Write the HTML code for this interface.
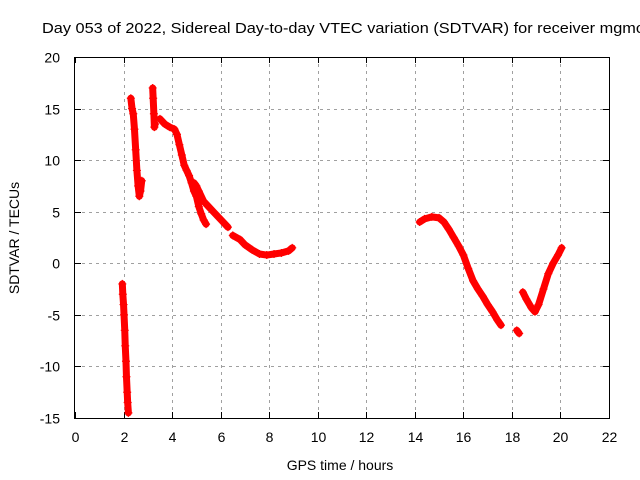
<!DOCTYPE html>
<html><head><meta charset="utf-8"><style>
html,body{margin:0;padding:0;background:#fff;}
svg{display:block;font-family:"Liberation Sans",sans-serif;}
</style></head><body>
<svg id="chart" width="640" height="480" viewBox="0 0 640 480" xmlns="http://www.w3.org/2000/svg">
<rect width="640" height="480" fill="#fff"/>
<text x="42" y="33" font-size="15" textLength="602" lengthAdjust="spacingAndGlyphs" fill="#000">Day 053 of 2022, Sidereal Day-to-day VTEC variation (SDTVAR) for receiver mgmc</text>
<g id="grid"></g>
<g id="ticks"></g>
<g id="series"></g>
<rect x="74.5" y="57.5" width="535" height="361" fill="none" stroke="#000" stroke-width="1"/>
<text x="340" y="470" font-size="14" text-anchor="middle">GPS time / hours</text>
<text transform="translate(19,238) rotate(-90)" font-size="14" text-anchor="middle">SDTVAR / TECUs</text>
</svg>
<script>
const xTicks = [0,2,4,6,8,10,12,14,16,18,20,22];
const yTicks = [-15,-10,-5,0,5,10,15,20];
const segA = [[1.95,-2],[1.97,-3],[2.0,-4],[2.02,-5],[2.05,-6.5],[2.07,-8],[2.1,-9.5],[2.12,-11],[2.15,-12.5],[2.17,-13.5],[2.2,-14.5]];
const segB = [[2.3,16],[2.35,15],[2.4,14.5],[2.45,13],[2.5,11],[2.55,9],[2.6,7.5],[2.65,6.5],[2.7,7],[2.75,8]];
const segC = [[3.2,17],[3.22,16],[3.25,14.5],[3.27,13.2],[3.3,13.5]];
const segD1 = [[3.5,14],[3.7,13.5],[3.9,13.2],[4.1,13],[4.2,12.5],[4.3,11.5],[4.4,10.5],[4.5,9.5],[4.6,9],[4.7,8.5],[4.8,7.8],[4.9,7],[5.0,6.5],[5.1,5.5],[5.2,4.8],[5.3,4.2],[5.4,3.8]];
const segD2 = [[4.9,7.8],[5.0,7.5],[5.1,7],[5.3,6],[5.5,5.5],[5.7,5],[5.9,4.5],[6.1,4],[6.3,3.5]];
const segD3 = [[6.5,2.7],[6.8,2.3],[7.0,1.8],[7.3,1.3],[7.6,0.9],[7.9,0.8],[8.2,0.9],[8.5,1.0],[8.8,1.2],[8.95,1.5]];
const segE = [[14.2,4],[14.4,4.3],[14.7,4.5],[15.0,4.4],[15.2,4.0],[15.4,3.3],[15.6,2.5],[15.8,1.7],[16.0,0.8],[16.2,-0.5],[16.4,-1.7],[16.6,-2.5],[16.8,-3.2],[17.0,-4],[17.2,-4.7],[17.4,-5.5],[17.55,-6]];
const segF = [[18.2,-6.5],[18.3,-6.8]];
const segG = [[18.45,-2.8],[18.6,-3.5],[18.8,-4.3],[18.95,-4.7],[19.1,-4],[19.3,-2.5],[19.5,-1],[19.7,0],[19.9,0.8],[20.05,1.5]];
const segments = [segA,segB,segC,segD1,segD2,segD3,segE,segF,segG];

const NS="http://www.w3.org/2000/svg";
const X0=75,X1=609,Y0=418,Y1=57;
function xs(v){return X0+(v-0)/22*(X1-X0);}
function ys(v){return Y0-(v+15)/35*(Y0-Y1);}
function mk(tag,attrs,parent){const e=document.createElementNS(NS,tag);for(const k in attrs)e.setAttribute(k,attrs[k]);parent.appendChild(e);return e;}
const grid=document.getElementById('grid'),ticks=document.getElementById('ticks'),series=document.getElementById('series');
xTicks.forEach(t=>{
  const x=Math.round(xs(t))+0.5;
  if(t>0&&t<22){const l=mk('line',{x1:x,x2:x,y1:Y1,y2:Y0,stroke:'#a0a0a0','stroke-dasharray':'3,4'},grid);
  
  }
  const tk=mk('path',{d:`M${x},${Y0}v-6M${x},${Y1}v6`,stroke:'#000'},ticks);
  
  
  const tx=mk('text',{x:x,y:442,'font-size':14,'text-anchor':'middle'},ticks);tx.textContent=t;
  
  
});
yTicks.forEach(t=>{
  const y=Math.round(ys(t))+0.5;
  if(t>-15&&t<20){const l=mk('line',{x1:X0,x2:X1,y1:y,y2:y,stroke:'#a0a0a0','stroke-dasharray':'3,4'},grid);
  
  }
  const tk=mk('path',{d:`M${X0},${y}h6M${X1},${y}h-6`,stroke:'#000'},ticks);
  
  
  const tx=mk('text',{x:60,y:y+5,'font-size':14,'text-anchor':'end'},ticks);tx.textContent=t;
  
  
});
segments.forEach(seg=>{
  const pl=mk('polyline',{points:seg.map(p=>xs(p[0])+','+ys(p[1])).join(' '),fill:'none',stroke:'#f00','stroke-width':7,'stroke-linejoin':'round','stroke-linecap':'round'},series);
  
  
  seg.forEach(p=>{
    const x=xs(p[0]),y=ys(p[1]);
    const m=mk('path',{d:`M${x-4},${y}h8M${x},${y-4}v8`,stroke:'#f00','stroke-width':1.2},series);
    
    
  });
});
</script>
</body></html>
